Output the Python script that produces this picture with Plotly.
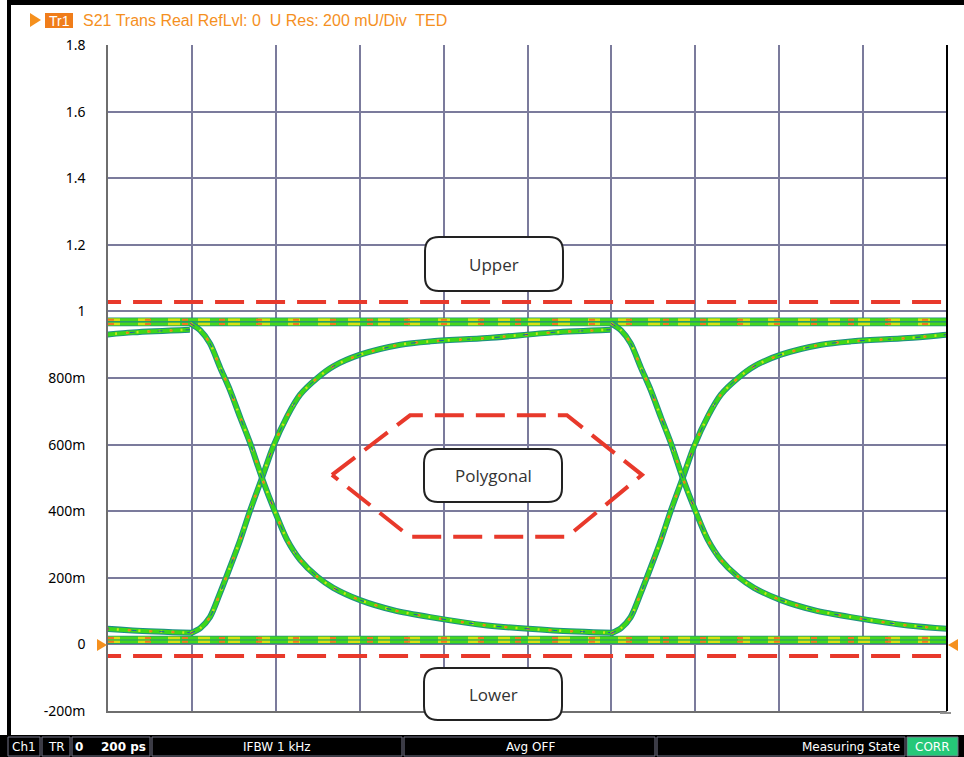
import plotly.graph_objects as go

# ---------------- data ----------------
TIME_RANGE_PS = [0, 2000]
UI_PS = 1003                 # unit interval (period between the two eye crossings)
EDGE_START_PS = 196          # start of the first transition
EDGE_OFFSETS_UI = [-1, 0, 1]

# rising edge trajectory, time relative to edge start (ps) and value (U)
RISE_T_PS = [0, 24, 47, 71, 95, 119, 143, 171, 198, 231, 262, 303, 341, 405, 501, 572, 708, 866, 1002]
RISE_V = [0.033, 0.049, 0.082, 0.154, 0.232, 0.313, 0.403, 0.50, 0.595, 0.685, 0.75, 0.80, 0.835,
          0.87, 0.90, 0.91, 0.92, 0.937, 0.945]

# falling edge trajectory
FALL_T_PS = [0, 24, 47, 71, 95, 119, 143, 171, 207, 231, 262, 303, 341, 405, 484, 572, 708, 866, 1009]
FALL_V = [0.964, 0.943, 0.904, 0.832, 0.763, 0.682, 0.604, 0.50, 0.383, 0.314, 0.254, 0.203, 0.17,
          0.133, 0.103, 0.082, 0.057, 0.042, 0.035]

# steady 1-1 and 0-0 levels
HIGH_LEVELS = [0.975, 0.962]
LOW_LEVELS = [0.008, 0.019]

Y_TICK_VALS = [-0.2, 0.0, 0.2, 0.4, 0.6, 0.8, 1.0, 1.2, 1.4, 1.6, 1.8]
Y_TICK_TEXT = ["-200m", "0", "200m", "400m", "600m", "800m", "1", "1.2", "1.4", "1.6", "1.8"]

UPPER_LIMIT = 1.028
LOWER_LIMIT = -0.035
POLY_T_PS = [534, 720, 1094, 1273, 1094, 720, 534]
POLY_V = [0.509, 0.688, 0.688, 0.509, 0.323, 0.323, 0.509]

HEADER_TEXT = "S21 Trans Real RefLvl: 0  U Res: 200 mU/Div  TED"

# ---------------- geometry helpers (page pixels -> paper) ----------------
W, H = 964, 757
ML, MR, MT, MB = 108, 17, 45, 46
PW, PH = W - ML - MR, H - MT - MB


def px(xp):
    return (xp - ML) / PW


def py(yp):
    return (H - MB - yp) / PH


fig = go.Figure()

# ---------------- eye traces ----------------
BAND_STYLES = [
    dict(color="#1c8f86", width=6),
    dict(color="#3dd61a", width=4),
    dict(color="#c9e418", width=2.5, dash="2px,9px"),
    dict(color="#f07a1a", width=2, dash="3px,19px"),
    dict(color="#1d58b0", width=1, dash="5px,23px"),
]


def add_band(xs, ys):
    for st in BAND_STYLES:
        fig.add_trace(go.Scatter(x=xs, y=ys, mode="lines",
                                 line=dict(shape="spline", smoothing=0.8, **st),
                                 hoverinfo="skip"))


FLAT_STYLES = [
    dict(color="#1f8f80", width=4.5),
    dict(color="#46d61c", width=3),
    dict(color="#d8e010", width=2.5, dash="12px,18px"),
    dict(color="#f07a1a", width=2, dash="6px,31px"),
]

for lvl in HIGH_LEVELS + LOW_LEVELS:
    for st in FLAT_STYLES:
        fig.add_trace(go.Scatter(x=TIME_RANGE_PS, y=[lvl, lvl], mode="lines",
                                 line=st, hoverinfo="skip"))

for k in EDGE_OFFSETS_UI:
    t0 = EDGE_START_PS + k * UI_PS
    add_band([t0 + t for t in RISE_T_PS], RISE_V)
    add_band([t0 + t for t in FALL_T_PS], FALL_V)

# ---------------- mask limits ----------------
RED = "#e8392b"
LIM_X = [-38, 2060]
fig.add_trace(go.Scatter(x=LIM_X, y=[UPPER_LIMIT, UPPER_LIMIT], mode="lines",
                         line=dict(color=RED, width=4, dash="29px,12px"), hoverinfo="skip"))
fig.add_trace(go.Scatter(x=LIM_X, y=[LOWER_LIMIT, LOWER_LIMIT], mode="lines",
                         line=dict(color=RED, width=4, dash="29px,12px"), hoverinfo="skip"))
fig.add_trace(go.Scatter(x=POLY_T_PS, y=POLY_V, mode="lines",
                         line=dict(color=RED, width=4, dash="29px,12px"), hoverinfo="skip"))

shapes = []
annotations = []


def rounded_box(x0p, y0p, x1p, y1p, r=14):
    # pixel coords -> paper path with rounded corners
    rx, ry = r / PW, r / PH
    a, b = px(x0p), px(x1p)
    top, bot = py(y0p), py(y1p)
    path = (f"M {a+rx},{top} L {b-rx},{top} Q {b},{top} {b},{top-ry} "
            f"L {b},{bot+ry} Q {b},{bot} {b-rx},{bot} "
            f"L {a+rx},{bot} Q {a},{bot} {a},{bot+ry} "
            f"L {a},{top-ry} Q {a},{top} {a+rx},{top} Z")
    shapes.append(dict(type="path", path=path, xref="paper", yref="paper",
                       line=dict(color="#222222", width=2), fillcolor="white", layer="above"))


for (x0p, y0p, x1p, y1p, label) in [(425, 237, 563, 291, "Upper"),
                                     (424, 449, 562, 502, "Polygonal"),
                                     (424, 668, 562, 720, "Lower")]:
    rounded_box(x0p, y0p, x1p, y1p)
    annotations.append(dict(text=label, xref="paper", yref="paper",
                            x=px((x0p + x1p) / 2), y=py((y0p + y1p) / 2),
                            showarrow=False, xanchor="center", yanchor="middle",
                            font=dict(family="Open Sans", size=17, color="#333333")))

# frame pieces
shapes.append(dict(type="line", xref="paper", yref="paper", x0=1, x1=1, y0=0, y1=1,
                   line=dict(color="black", width=2), layer="above"))
shapes.append(dict(type="line", xref="paper", yref="paper", x0=px(940), x1=px(951),
                   y0=py(713), y1=py(713), line=dict(color="#909090", width=2)))
# black window borders
shapes.append(dict(type="rect", xref="paper", yref="paper", x0=px(10), x1=px(964),
                   y0=py(5), y1=py(0), fillcolor="black", line=dict(width=0)))
shapes.append(dict(type="rect", xref="paper", yref="paper", x0=px(7), x1=px(11),
                   y0=py(735), y1=py(0), fillcolor="black", line=dict(width=0)))

ORANGE = "#f5901e"
# zero-reference markers
shapes.append(dict(type="path", xref="paper", yref="paper", fillcolor=ORANGE, line=dict(width=0),
                   path=f"M {px(97)},{py(639)} L {px(107)},{py(645)} L {px(97)},{py(651)} Z"))
shapes.append(dict(type="path", xref="paper", yref="paper", fillcolor=ORANGE, line=dict(width=0),
                   path=f"M {px(958)},{py(639)} L {px(948)},{py(645)} L {px(958)},{py(651)} Z"))

# header
shapes.append(dict(type="path", xref="paper", yref="paper", fillcolor=ORANGE, line=dict(width=0),
                   path=f"M {px(30)},{py(13)} L {px(41)},{py(20)} L {px(30)},{py(27)} Z"))
shapes.append(dict(type="rect", xref="paper", yref="paper", x0=px(45), x1=px(73),
                   y0=py(28), y1=py(13), fillcolor="#f07d1a", line=dict(width=0)))
annotations.append(dict(text="Tr1", xref="paper", yref="paper", x=px(59), y=py(21),
                        showarrow=False, xanchor="center", yanchor="middle",
                        font=dict(family="Liberation Sans", size=14, color="white")))
annotations.append(dict(text=HEADER_TEXT, xref="paper", yref="paper", x=px(81), y=py(21),
                        showarrow=False, xanchor="left", yanchor="middle",
                        font=dict(family="Liberation Sans", size=16, color=ORANGE)))

# status bar
shapes.append(dict(type="rect", xref="paper", yref="paper", x0=px(0), x1=px(964),
                   y0=py(757), y1=py(735), fillcolor="black", line=dict(width=0)))
CELLS = [(8, 40, "black"), (42, 70, "black"), (72, 150, "black"), (152, 402, "black"),
         (404, 655, "black"), (657, 905, "black"), (907, 958, "#25c878")]
for (a, b, fc) in CELLS:
    shapes.append(dict(type="rect", xref="paper", yref="paper", x0=px(a), x1=px(b),
                       y0=py(756), y1=py(737), fillcolor=fc,
                       line=dict(color="#77778a", width=1)))
SB_FONT = dict(family="DejaVu Sans", size=12, color="white")
for (txt, xc, anchor, bold) in [("Ch1", 24, "center", False), ("TR", 56, "center", False),
                                ("0", 73, "left", True), ("200 ps", 148, "right", True),
                                ("IFBW 1 kHz", 277, "center", False),
                                ("Avg OFF", 530, "center", False),
                                ("Measuring State", 902, "right", False),
                                ("CORR", 932, "center", False)]:
    annotations.append(dict(text=f"<b>{txt}</b>" if bold else txt, xref="paper", yref="paper",
                            x=px(xc), y=py(747), showarrow=False, xanchor=anchor,
                            yanchor="middle", font=SB_FONT))

GRID = "#7b7b9c"
fig.update_layout(
    width=W, height=H,
    margin=dict(l=ML, r=MR, t=MT, b=MB, pad=0),
    paper_bgcolor="white", plot_bgcolor="white",
    showlegend=False, hovermode=False,
    shapes=shapes, annotations=annotations,
    xaxis=dict(range=TIME_RANGE_PS, tick0=0, dtick=200, showticklabels=False,
               showgrid=True, gridcolor=GRID, gridwidth=1.5, zeroline=False,
               showline=True, linecolor="#6e6e6e", linewidth=1.5, ticks=""),
    yaxis=dict(range=[-0.2, 1.8], tickvals=Y_TICK_VALS, ticktext=Y_TICK_TEXT,
               showgrid=True, gridcolor=GRID, gridwidth=1.5, zeroline=False,
               showline=True, linecolor="#6e6e6e", linewidth=1.5, ticks="",
               ticklabelstandoff=18,
               tickfont=dict(family="Noto Sans", size=14, color="black")),
)

fig.write_html("out.html", config={"displayModeBar": False},
               post_script="document.body.style.margin='0px';document.body.style.overflow='hidden';")
